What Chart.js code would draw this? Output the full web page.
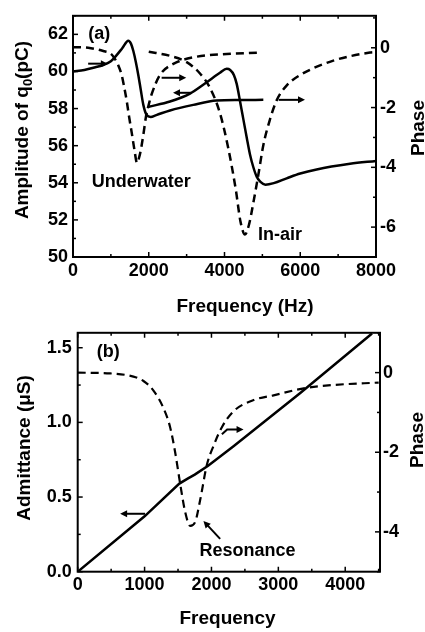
<!DOCTYPE html>
<html>
<head>
<meta charset="utf-8">
<script src="https://cdn.jsdelivr.net/npm/chart.js@4.4.1/dist/chart.umd.min.js"></script>
<style>
  html, body { margin: 0; padding: 0; background: #fff; }
  #wrap { position: relative; width: 425px; height: 632px; }
  canvas { position: absolute; left: 0; }
</style>
</head>
<body>
<div id="wrap">
  <canvas id="chartA" width="425" height="320" style="top:0"></canvas>
  <canvas id="chartB" width="425" height="316" style="top:316px"></canvas>
</div>
<script>
// ---- (a) amplitude of q0 and phase, underwater vs in-air ----
const uwAmpFreq = [0, 300, 536, 800, 1000, 1153, 1300, 1461, 1530, 1593, 1660, 1725, 1790, 1857, 1945, 2050, 2200, 2561, 3176, 3793, 4400, 5025];
const uwAmp     = [60.0, 60.08, 60.2, 60.35, 60.55, 60.88, 61.25, 61.66, 61.5, 61.1, 60.5, 59.8, 59.0, 58.2, 57.65, 57.55, 57.65, 57.9, 58.2, 58.43, 58.46, 58.47];

const airAmpFreq = [2000, 2561, 3089, 3529, 3881, 4058, 4150, 4250, 4322, 4410, 4497, 4590, 4673, 4760, 4850, 4950, 5080, 5300, 5641, 6000, 6433, 7314, 8000];
const airAmp     = [58.1, 58.38, 58.81, 59.42, 59.93, 60.14, 60.08, 59.8, 59.33, 58.4, 57.43, 56.4, 55.53, 54.85, 54.33, 54.05, 53.9, 53.98, 54.24, 54.5, 54.72, 55.02, 55.18];

const uwPhaseFreq = [0, 400, 800, 1000, 1109, 1200, 1285, 1350, 1417, 1480, 1549, 1620, 1690, 1760, 1813, 1870, 1927, 2000, 2077, 2297, 2648, 3176, 4058, 4893];
const uwPhase     = [0.02, 0, -0.11, -0.2, -0.38, -0.6, -0.91, -1.3, -1.77, -2.3, -2.83, -3.4, -3.85, -3.6, -3.26, -2.8, -2.3, -1.9, -1.55, -0.91, -0.54, -0.32, -0.21, -0.16];

const airPhaseFreq = [2000, 2561, 3002, 3353, 3617, 3881, 4101, 4300, 4420, 4541, 4650, 4761, 4900, 5025, 5200, 5377, 5650, 6000, 6873, 7842, 8000];
const airPhase     = [-0.13, -0.27, -0.48, -0.86, -1.34, -2.19, -3.37, -4.76, -5.8, -6.25, -5.9, -5.19, -4.2, -3.26, -2.4, -1.76, -1.25, -0.91, -0.43, -0.16, -0.14];

const freqTicksA  = [0, 2000, 4000, 6000, 8000];
const ampTicks    = [50, 52, 54, 56, 58, 60, 62];
const phaseTicksA = [0, -2, -4, -6];

// arrows (polylines in data units, head at the last point)
const arrowsA = [
  [[400, 60.42], [920, 60.42]],
  [[2340, 59.66], [2990, 59.66]],
  [[3120, 58.85], [2640, 58.85]],
  [[5430, 58.47], [6125, 58.47]]
];
const notesA = [['(a)', 400, 62.0], ['Underwater', 494, 54.03], ['In-air', 4886, 51.16]];

// ---- (b) admittance and phase ----
const admFreq = [0, 1000, 1520, 1650, 1750, 1950, 2330, 3328, 4401];
const adm     = [0, 0.371, 0.59, 0.625, 0.65, 0.71, 0.84, 1.197, 1.595];

const phaseBFreq = [0, 484, 833, 983, 1133, 1282, 1382, 1457, 1532, 1607, 1682, 1757, 1831, 1931, 2031, 2156, 2330, 2630, 2929, 3428, 3827, 4500];
const phaseB     = [0, -0.02, -0.1, -0.21, -0.45, -0.89, -1.37, -2.0, -2.79, -3.5, -3.85, -3.75, -3.2, -2.32, -1.84, -1.37, -0.97, -0.69, -0.57, -0.38, -0.31, -0.25];

const freqTicksB  = [0, 1000, 2000, 3000, 4000];
const admTicks    = [0, 0.5, 1.0, 1.5];
const phaseTicksB = [0, -2, -4];

const arrowsB = [
  [[1008, 0.388], [634, 0.388]],
  [[2156, 0.92], [2235, 0.953], [2480, 0.953]],
  [[2130, 0.22], [1880, 0.34]]
];
const notesB = [['(b)', 284, 1.473], ['Resonance', 1820, 0.138]];

const FONT = '"Liberation Sans", Arial, Helvetica, sans-serif';
const tickFont = { family: FONT, size: 18, weight: 'bold' };

function pts(xs, ys) {
  return xs.map((x, i) => ({ x: x, y: ys[i] }));
}

// frame, inner ticks, arrows, notes and axis titles
const decor = {
  id: 'decor',
  afterDraw(chart, args, o) {
    const ctx = chart.ctx, a = chart.chartArea, sc = chart.scales;
    ctx.save();
    ctx.strokeStyle = '#000';
    ctx.fillStyle = '#000';

    ctx.lineWidth = 1.5;
    o.minor.forEach(([id, step]) => {
      const s = sc[id];
      for (let n = Math.ceil(s.min / step - 1e-9); n * step <= s.max + 1e-9; n++) {
        const v = n * step;
        const len = s.ticks.some(t => Math.abs(t.value - v) < 1e-6) ? 5 : 3;
        const p = s.getPixelForValue(v);
        ctx.beginPath();
        if (id === 'x') {
          ctx.moveTo(p, a.bottom); ctx.lineTo(p, a.bottom - len);
          ctx.moveTo(p, a.top); ctx.lineTo(p, a.top + len);
        } else if (id === 'y') {
          ctx.moveTo(a.left, p); ctx.lineTo(a.left + len, p);
        } else {
          ctx.moveTo(a.right, p); ctx.lineTo(a.right - len, p);
        }
        ctx.stroke();
      }
    });

    ctx.lineWidth = 2;
    ctx.strokeRect(a.left, a.top, a.right - a.left, a.bottom - a.top);

    // arrows
    o.arrows.forEach(arr => {
      const p = arr.map(([x, y]) => [sc.x.getPixelForValue(x), sc.y.getPixelForValue(y)]);
      const [x1, y1] = p[p.length - 2], [x2, y2] = p[p.length - 1];
      const ang = Math.atan2(y2 - y1, x2 - x1);
      ctx.lineWidth = 2;
      ctx.beginPath();
      p.forEach(([x, y], i) => {
        if (i === 0) ctx.moveTo(x, y);
        else if (i === p.length - 1) ctx.lineTo(x - 5 * Math.cos(ang), y - 5 * Math.sin(ang));
        else ctx.lineTo(x, y);
      });
      ctx.stroke();
      ctx.save();
      ctx.translate(x2, y2);
      ctx.rotate(ang);
      ctx.beginPath();
      ctx.moveTo(0, 0); ctx.lineTo(-7, -3.5); ctx.lineTo(-7, 3.5); ctx.closePath();
      ctx.fill();
      ctx.restore();
    });

    // notes inside the plot
    ctx.font = 'bold 18px ' + FONT;
    ctx.textAlign = 'left';
    ctx.textBaseline = 'middle';
    o.notes.forEach(([t, x, y]) => ctx.fillText(t, sc.x.getPixelForValue(x), sc.y.getPixelForValue(y)));

    // axis titles
    o.titles.forEach(t => {
      ctx.save();
      ctx.translate(t.x, t.y);
      ctx.rotate(t.rot || 0);
      let w = 0;
      t.parts.forEach(([txt, sub]) => {
        ctx.font = (sub ? 'bold 13px ' : 'bold 19px ') + FONT;
        w += ctx.measureText(txt).width;
      });
      let cx = -w / 2;
      t.parts.forEach(([txt, sub]) => {
        ctx.font = (sub ? 'bold 13px ' : 'bold 19px ') + FONT;
        ctx.fillText(txt, cx, sub ? 5 : 0);
        cx += ctx.measureText(txt).width;
      });
      ctx.restore();
    });
    ctx.restore();
  }
};

function axis(pos, min, max, tickVals, size, pad, fmt) {
  return {
    type: 'linear',
    position: pos,
    min: min,
    max: max,
    afterBuildTicks: s => { s.ticks = tickVals.map(v => ({ value: v })); },
    afterFit: s => { if (pos === 'bottom') s.height = size; else s.width = size; },
    grid: { display: false, drawTicks: false },
    border: { display: false },
    ticks: {
      padding: pad,
      color: '#000',
      font: tickFont,
      maxRotation: 0,
      autoSkip: false,
      callback: fmt || (v => String(v))
    }
  };
}

function lineSet(xs, ys, axisId, dashed, width, tension) {
  return {
    data: pts(xs, ys),
    yAxisID: axisId,
    borderColor: '#000',
    borderWidth: width,
    borderDash: dashed ? [8, 5] : [],
    pointRadius: 0,
    fill: false,
    tension: tension,
    cubicInterpolationMode: tension ? 'monotone' : 'default'
  };
}

new Chart(document.getElementById('chartA'), {
  type: 'line',
  data: {
    datasets: [
      lineSet(uwAmpFreq, uwAmp, 'y', false, 2.5, 0.4),
      lineSet(airAmpFreq, airAmp, 'y', false, 2.5, 0.4),
      lineSet(uwPhaseFreq, uwPhase, 'y2', true, 2.5, 0.4),
      lineSet(airPhaseFreq, airPhase, 'y2', true, 2.5, 0.4)
    ]
  },
  options: {
    responsive: false,
    animation: false,
    devicePixelRatio: 1,
    layout: { padding: { top: 5, left: 0, right: 0, bottom: 0 } },
    plugins: {
      legend: { display: false },
      tooltip: { enabled: false },
      decor: {
        minor: [['x', 1000], ['y', 1], ['y2', 1]],
        arrows: arrowsA,
        notes: notesA,
        titles: [
          { parts: [['Amplitude of q', 0], ['0', 1], ['(pC)', 0]], x: 23, y: 130, rot: -Math.PI / 2 },
          { parts: [['Phase', 0]], x: 419, y: 128, rot: -Math.PI / 2 },
          { parts: [['Frequency (Hz)', 0]], x: 245, y: 307 }
        ]
      }
    },
    scales: {
      x: axis('bottom', 0, 8000, freqTicksA, 63, 3),
      y: axis('left', 50, 63, ampTicks, 73, 5),
      y2: axis('right', -7, 1.07, phaseTicksA, 49, 4)
    }
  },
  plugins: [decor]
});

new Chart(document.getElementById('chartB'), {
  type: 'line',
  data: {
    datasets: [
      lineSet(admFreq, adm, 'y', false, 2.5, 0),
      lineSet(phaseBFreq, phaseB, 'y2', true, 2.2, 0.4)
    ]
  },
  options: {
    responsive: false,
    animation: false,
    devicePixelRatio: 1,
    layout: { padding: { top: 4.5, left: 0, right: 0, bottom: 0 } },
    plugins: {
      legend: { display: false },
      tooltip: { enabled: false },
      decor: {
        minor: [['x', 500], ['y', 0.25], ['y2', 1]],
        arrows: arrowsB,
        notes: notesB,
        titles: [
          { parts: [['Admittance (\u03bcS)', 0]], x: 24.5, y: 132, rot: -Math.PI / 2 },
          { parts: [['Phase', 0]], x: 417.5, y: 124, rot: -Math.PI / 2 },
          { parts: [['Frequency', 0]], x: 227.5, y: 303 }
        ]
      }
    },
    scales: {
      x: axis('bottom', 0, 4520, freqTicksB, 60.3, 3),
      y: axis('left', 0, 1.6, admTicks, 77.7, 6, v => v.toFixed(1)),
      y2: axis('right', -5, 1, phaseTicksB, 45, 3)
    }
  },
  plugins: [decor]
});
</script>
</body>
</html>
